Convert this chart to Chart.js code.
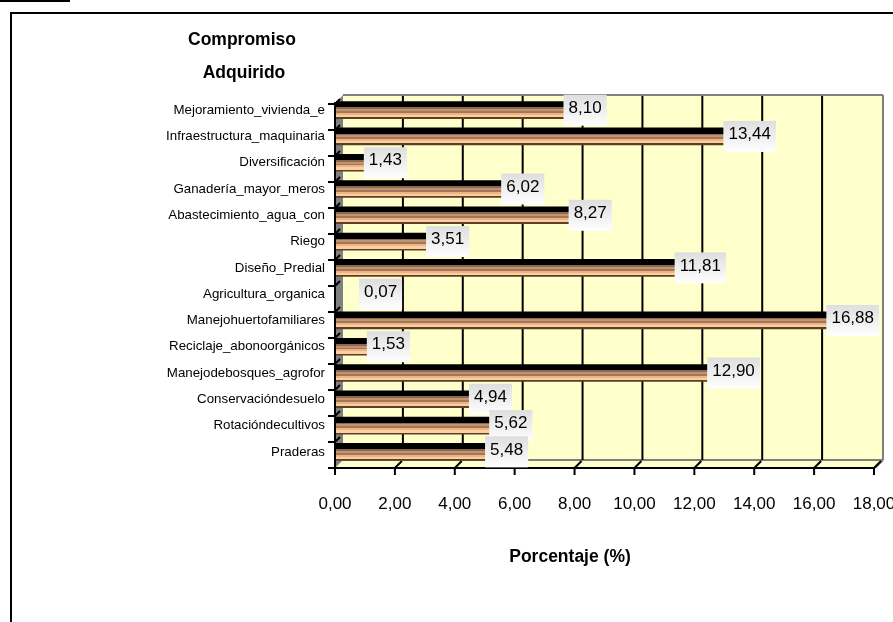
<!DOCTYPE html>
<html>
<head>
<meta charset="utf-8">
<script src="https://cdn.jsdelivr.net/npm/chart.js@4/dist/chart.umd.min.js"></script>
<style>
  html, body { margin: 0; padding: 0; background: #ffffff; }
  canvas { display: block; }
</style>
</head>
<body>
<canvas id="c" width="893" height="622"></canvas>
<script>
// ---- data ----
const categories = [
  'Mejoramiento_vivienda_e',
  'Infraestructura_maquinaria',
  'Diversificación',
  'Ganadería_mayor_meros',
  'Abastecimiento_agua_con',
  'Riego',
  'Diseño_Predial',
  'Agricultura_organica',
  'Manejohuertofamiliares',
  'Reciclaje_abonoorgánicos',
  'Manejodebosques_agrofor',
  'Conservacióndesuelo',
  'Rotacióndecultivos',
  'Praderas'
];
const values = [8.10, 13.44, 1.43, 6.02, 8.27, 3.51, 11.81, 0.07, 16.88, 1.53, 12.90, 4.94, 5.62, 5.48];
const tickLabels = ['0,00', '2,00', '4,00', '6,00', '8,00', '10,00', '12,00', '14,00', '16,00', '18,00'];
const titleLines = ['Compromiso', 'Adquirido'];
const axisTitle = 'Porcentaje (%)';

// ---- style ----
const FONT = "'Liberation Sans', Arial, sans-serif";
const DEPTH = 8;          // 3D wall depth
const BAR_SHIFT = -14;    // perspective shift of the bars
const WALL = '#FFFFCC';
const GREY = '#808080';

function fmt(v) { return v.toFixed(2).replace('.', ','); }

function barGradient(context) {
  const chart = context.chart;
  const y = chart.scales && chart.scales.y;
  if (!y || context.dataIndex === undefined) return '#C09070';
  const yc = y.getPixelForValue(context.dataIndex);
  if (!isFinite(yc)) return '#C09070';
  const h = 17;
  const g = chart.ctx.createLinearGradient(0, yc - h / 2, 0, yc + h / 2);
  const stops = [
    [0.00, '#000000'], [0.33, '#000000'],
    [0.33, '#8B6A50'], [0.43, '#8B6A50'],
    [0.43, '#C39472'], [0.55, '#C39472'],
    [0.55, '#A07858'], [0.66, '#A07858'],
    [0.66, '#EDB585'], [0.78, '#EDB585'],
    [0.78, '#FFCE9E'], [0.91, '#FFCE9E'],
    [0.91, '#5A3E28'], [1.00, '#5A3E28']
  ];
  stops.forEach(s => g.addColorStop(s[0], s[1]));
  return g;
}

const decor = {
  id: 'decor',
  beforeDraw(chart) {
    const ctx = chart.ctx;
    ctx.save();
    ctx.fillStyle = '#ffffff';
    ctx.fillRect(0, 0, chart.width, chart.height);
    // outer frame
    ctx.fillStyle = '#000000';
    ctx.fillRect(0, 0, 70, 2);
    ctx.fillRect(10, 12, chart.width - 10, 2);
    ctx.fillRect(10, 12, 2, chart.height - 12);
    // title
    ctx.font = 'bold 17.5px ' + FONT;
    ctx.textAlign = 'center';
    ctx.textBaseline = 'middle';
    ctx.fillText(titleLines[0], 242, 40);
    ctx.fillText(titleLines[1], 244, 73);
    // axis title
    ctx.font = 'bold 17.5px ' + FONT;
    ctx.fillText(axisTitle, 570, 557);
    ctx.restore();
  },
  beforeDatasetsDraw(chart) {
    const ctx = chart.ctx;
    const a = chart.chartArea;
    const x = chart.scales.x;
    const d = DEPTH;
    const fy = a.bottom + 3;           // front floor line
    const x0 = x.getPixelForValue(0);
    const x18 = x.getPixelForValue(18);
    const wallTop = a.top - 1;
    const wallBottom = fy - d;
    ctx.save();
    // back wall
    ctx.fillStyle = WALL;
    ctx.fillRect(x0 + d, wallTop, x18 - x0, wallBottom - wallTop);
    // floor
    ctx.beginPath();
    ctx.moveTo(x0, fy); ctx.lineTo(x0 + d, wallBottom); ctx.lineTo(x18 + d, wallBottom); ctx.lineTo(x18, fy);
    ctx.closePath();
    ctx.fill();
    // wall borders
    ctx.strokeStyle = GREY;
    ctx.lineWidth = 2;
    ctx.beginPath();
    ctx.moveTo(x0 + d, wallTop - 1); ctx.lineTo(x18 + d + 1, wallTop - 1);
    ctx.moveTo(x18 + d + 1, wallTop - 1); ctx.lineTo(x18 + d + 1, wallBottom);
    ctx.moveTo(x0 + d, wallBottom); ctx.lineTo(x18 + d + 1, wallBottom);
    ctx.moveTo(x18 + d + 1, wallBottom); ctx.lineTo(x18 + 1, fy);
    ctx.stroke();
    // left side wall
    ctx.fillStyle = GREY;
    ctx.beginPath();
    ctx.moveTo(x0, wallTop + d); ctx.lineTo(x0 + d, wallTop - 1); ctx.lineTo(x0 + d, wallBottom); ctx.lineTo(x0, fy);
    ctx.closePath();
    ctx.fill();
    // grid lines on back wall + floor slants + ticks
    ctx.strokeStyle = '#000000';
    ctx.lineWidth = 2;
    ctx.beginPath();
    x.ticks.forEach(t => {
      const px = x.getPixelForValue(t.value);
      if (t.value > 0 && t.value < 18) {
        ctx.moveTo(px + d, wallTop);
        ctx.lineTo(px + d, wallBottom);
      }
      if (t.value > 0) {
        ctx.moveTo(px, fy);
        ctx.lineTo(px + d - 1, wallBottom + 1);
      }
      ctx.moveTo(px, fy);
      ctx.lineTo(px, fy + 7);
    });
    ctx.stroke();
    // front axes
    ctx.beginPath();
    ctx.moveTo(x0, wallTop + d - 2); ctx.lineTo(x0, fy + 7);
    ctx.moveTo(x0 - 1, fy); ctx.lineTo(x18 + 1, fy);
    ctx.stroke();
    // category boundary ticks
    const n = categories.length;
    ctx.beginPath();
    for (let i = 0; i <= n; i++) {
      const yb = Math.round(a.top + d - 1 + i * (fy - (a.top + d - 1)) / n);
      ctx.moveTo(x0 - 7, yb); ctx.lineTo(x0, yb);
      if (i < n) { ctx.moveTo(x0, yb); ctx.lineTo(x0 + 5, yb - 5); }
    }
    ctx.stroke();
    ctx.restore();

    // bars: perspective shift, clipped at the side wall
    ctx.save();
    ctx.beginPath();
    ctx.rect(x0 + 1, 0, chart.width, chart.height);
    ctx.clip();
    ctx.translate(BAR_SHIFT, 0);
  },
  afterDatasetsDraw(chart) {
    const ctx = chart.ctx;
    ctx.restore();
    const x = chart.scales.x;
    const x0 = x.getPixelForValue(0);
    const meta = chart.getDatasetMeta(0);
    ctx.save();
    ctx.font = '17px ' + FONT;
    ctx.textAlign = 'center';
    ctx.textBaseline = 'middle';
    meta.data.forEach((el, i) => {
      const txt = fmt(values[i]);
      const w = ctx.measureText(txt).width + 10;
      const h = 31;
      const left = Math.max(el.x + BAR_SHIFT, x0 + 24);
      const top = el.y - h / 2;
      const g = ctx.createLinearGradient(0, top, 0, top + h);
      g.addColorStop(0, '#DEDEDE');
      g.addColorStop(1, '#FFFFFF');
      ctx.fillStyle = g;
      ctx.fillRect(left, top, w, h);
      ctx.fillStyle = '#000000';
      ctx.fillText(txt, left + w / 2, el.y - 2);
    });
    ctx.restore();
  }
};

new Chart(document.getElementById('c'), {
  type: 'bar',
  data: {
    labels: categories,
    datasets: [{
      data: values,
      backgroundColor: barGradient,
      borderWidth: 0,
      barThickness: 17
    }]
  },
  options: {
    indexAxis: 'y',
    responsive: false,
    devicePixelRatio: 1,
    animation: false,
    layout: { padding: { left: 0, right: 19, top: 97, bottom: 0 } },
    plugins: { legend: { display: false }, title: { display: false }, tooltip: { enabled: false } },
    scales: {
      x: {
        min: 0, max: 18,
        ticks: {
          stepSize: 2,
          color: '#000000',
          padding: 29,
          maxRotation: 0,
          autoSkip: false,
          font: { family: FONT, size: 17 },
          callback: (v, i) => tickLabels[i]
        },
        grid: { display: false, drawTicks: false },
        border: { display: false },
        afterFit(scale) { scale.height = 157; scale.paddingLeft = 0; scale.paddingRight = 0; }
      },
      y: {
        ticks: {
          color: '#000000',
          padding: 10,
          autoSkip: false,
          font: { family: FONT, size: 13.3 }
        },
        grid: { display: false, drawTicks: false },
        border: { display: false },
        afterFit(scale) { scale.width = 335; scale.paddingTop = 0; scale.paddingBottom = 0; }
      }
    }
  },
  plugins: [decor]
});
</script>
</body>
</html>
